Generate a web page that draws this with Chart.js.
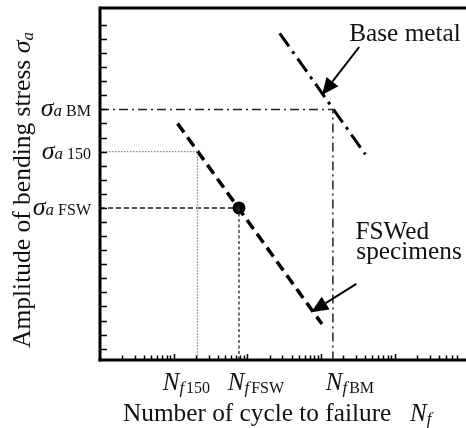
<!DOCTYPE html>
<html><head><meta charset="utf-8">
<script src="https://cdn.jsdelivr.net/npm/chart.js@4/dist/chart.umd.min.js"></script>
<style>html,body{margin:0;padding:0;background:#fff;overflow:hidden}canvas{display:block}</style>
</head><body><canvas id="c" width="466" height="428"></canvas>
<script>
// ---- data (schematic S-N diagram; x = cycles (log), y = stress units) ----
const levelNames = ['BM', '150', 'FSW'];          // sigma_a labels
const levelValues = [17, 14, 10];                  // stress levels
const lifeNames = ['150', 'FSW', 'BM'];           // N_f labels
const lifeValues = [21, 77, 1450];                 // cycles to failure
const baseMetalN = [275, 4000];
const baseMetalS = [22.4, 13.8];
const fswN = [11.3, 1030];
const fswS = [16.0, 1.75];
const fswPointN = [77];
const fswPointS = [10];

const X_MIN = 1, X_MAX = 75858, Y_MIN = -0.8, Y_MAX = 24.2;
const SERIF = "'Liberation Serif','DejaVu Serif',serif";

const toXY = (xs, ys) => xs.map((v, i) => ({x: v, y: ys[i]}));
const hLine = (i, xi) => [{x: X_MIN, y: levelValues[i]}, {x: lifeValues[xi], y: levelValues[i]}];
const vLine = (i, xi) => [{x: lifeValues[xi], y: levelValues[i]}, {x: lifeValues[xi], y: Y_MIN}];
const elbow = (i, xi) => hLine(i, xi).concat([{x: lifeValues[xi], y: Y_MIN}]);

const base = {showLine: true, pointRadius: 0, fill: false, tension: 0};
const datasets = [
  Object.assign({}, base, {data: elbow(0, 2), borderColor: '#222', borderWidth: 1.5, borderDash: [9, 4, 2, 4]}),
  Object.assign({}, base, {data: elbow(1, 0), borderColor: '#8a8a8a', borderWidth: 1.2, borderDash: [1.5, 1.5]}),
  Object.assign({}, base, {data: hLine(2, 1), borderColor: '#222', borderWidth: 1.5, borderDash: [5, 3]}),
  Object.assign({}, base, {data: vLine(2, 1), borderColor: '#333', borderWidth: 1.4, borderDash: [3, 2.5]}),
  Object.assign({}, base, {data: toXY(baseMetalN, baseMetalS), borderColor: '#000', borderWidth: 3, borderDash: [16, 6, 3, 6]}),
  Object.assign({}, base, {data: toXY(fswN, fswS), borderColor: '#000', borderWidth: 3.5, borderDash: [11, 6]}),
  {data: toXY(fswPointN, fswPointS), showLine: false, pointRadius: 6.5, pointBackgroundColor: '#000', pointBorderColor: '#000', pointBorderWidth: 0}
];

function rich(ctx, parts, x, y, align) {
  let w = 0;
  parts.forEach(p => { ctx.font = p.f; p.w = ctx.measureText(p.t).width + (p.pre || 0); w += p.w; });
  let cx = align === 'right' ? x - w : (align === 'center' ? x - w / 2 : x);
  parts.forEach(p => { ctx.font = p.f; ctx.fillText(p.t, cx + (p.pre || 0), y + (p.dy || 0)); cx += p.w; });
}
function arrow(ctx, x1, y1, x2, y2) {
  const ang = Math.atan2(y2 - y1, x2 - x1), L = 17, H = 7.5;
  const bx = x2 - L * Math.cos(ang), by = y2 - L * Math.sin(ang);
  ctx.lineWidth = 2; ctx.beginPath(); ctx.moveTo(x1, y1); ctx.lineTo(bx, by); ctx.stroke();
  ctx.beginPath(); ctx.moveTo(x2, y2);
  ctx.lineTo(bx + H * Math.sin(ang), by - H * Math.cos(ang));
  ctx.lineTo(bx - H * Math.sin(ang), by + H * Math.cos(ang));
  ctx.closePath(); ctx.fill();
}

const frame = {
  id: 'frame',
  afterDraw(chart, args, o) {
    const {ctx, chartArea: a, scales: {x, y}} = chart;
    ctx.save();
    ctx.strokeStyle = '#000'; ctx.fillStyle = '#000';
    // inward tick marks placed through the scales
    ctx.lineWidth = 1.5;
    for (let v = Math.ceil(y.min); v <= y.max - 1; v++) {
      const py = Math.round(y.getPixelForValue(v)) + 0.5;
      ctx.beginPath(); ctx.moveTo(a.left, py); ctx.lineTo(a.left + 7, py); ctx.stroke();
    }
    x.ticks.forEach(t => {
      const v = t.value; if (v <= x.min * 1.0001 || v >= x.max) return;
      const e = Math.floor(Math.log10(v) + 1e-9), m = v / Math.pow(10, e);
      if (Math.abs(m - Math.round(m)) > 1e-6) return;
      const px = Math.round(x.getPixelForValue(v)) + 0.5;
      ctx.beginPath(); ctx.moveTo(px, a.bottom); ctx.lineTo(px, a.bottom - (Math.round(m) === 1 ? 6 : 4.5)); ctx.stroke();
    });
    // frame
    ctx.lineWidth = 3;
    ctx.beginPath(); ctx.moveTo(a.left, a.top); ctx.lineTo(chart.width, a.top); ctx.stroke();
    ctx.beginPath(); ctx.moveTo(a.left, a.top - 1.5); ctx.lineTo(a.left, a.bottom + 1.5); ctx.stroke();
    ctx.beginPath(); ctx.moveTo(a.left - 1.5, a.bottom); ctx.lineTo(chart.width, a.bottom); ctx.stroke();
    // y level labels
    ctx.fillStyle = '#111'; ctx.textBaseline = 'alphabetic';
    levelValues.forEach((v, i) => {
      const py = y.getPixelForValue(v);
      rich(ctx, [{t: 'σ', f: `italic 26px ${SERIF}`}, {t: 'a', f: `italic 17px ${SERIF}`},
                 {t: levelNames[i], f: `16px ${SERIF}`, pre: 4}], a.left - 9, py + 7, 'right');
    });
    // x life labels
    lifeValues.forEach((v, i) => {
      const px = x.getPixelForValue(v) + o.lifeDx[i];
      rich(ctx, [{t: 'N', f: `italic 25px ${SERIF}`}, {t: 'f', f: `italic 17px ${SERIF}`, dy: 3},
                 {t: lifeNames[i], f: `16px ${SERIF}`, dy: 3, pre: 2}], px, a.bottom + 30, 'center');
    });
    // axis titles
    rich(ctx, [{t: 'Number of cycle to failure', f: `25.3px ${SERIF}`}], 123, 421, 'left');
    rich(ctx, [{t: 'N', f: `italic 25px ${SERIF}`}, {t: 'f', f: `italic 17px ${SERIF}`, dy: 3}], 410, 421, 'left');
    ctx.save(); ctx.translate(30, 190); ctx.rotate(-Math.PI / 2);
    rich(ctx, [{t: 'Amplitude of bending stress ', f: `25.5px ${SERIF}`}, {t: 'σ', f: `italic 26px ${SERIF}`},
               {t: 'a', f: `italic 17px ${SERIF}`, dy: 3}], 0, 0, 'center');
    ctx.restore();
    // annotations (data coordinates)
    ctx.fillStyle = '#000'; ctx.strokeStyle = '#000';
    o.arrows.forEach(r => arrow(ctx, x.getPixelForValue(r[0]), y.getPixelForValue(r[1]), x.getPixelForValue(r[2]), y.getPixelForValue(r[3])));
    ctx.fillStyle = '#111';
    o.notes.forEach(n => { ctx.font = `25.3px ${SERIF}`; ctx.textAlign = n[3]; ctx.fillText(n[0], x.getPixelForValue(n[1]), y.getPixelForValue(n[2])); });
    ctx.restore();
  }
};

new Chart(document.getElementById('c'), {
  type: 'scatter',
  data: {datasets},
  options: {
    responsive: false, animation: false, devicePixelRatio: 1,
    layout: {padding: {left: 100, top: 8, right: 0, bottom: 68}},
    plugins: {
      legend: {display: false}, tooltip: {enabled: false},
      frame: {
        lifeDx: [-11, 17, 17],
        arrows: [[3300, 21.43, 1031, 18.02], [3020, 4.6, 736, 2.6]],
        notes: [['Base metal', 13800, 21.85, 'center'], ['FSWed', 2929, 7.79, 'left'], ['specimens', 3020, 6.37, 'left']]
      }
    },
    scales: {
      x: {type: 'logarithmic', min: X_MIN, max: X_MAX, display: false, ticks: {autoSkip: false}},
      y: {type: 'linear', min: Y_MIN, max: Y_MAX, display: false, ticks: {stepSize: 1, autoSkip: false}}
    }
  },
  plugins: [frame]
});
</script></body></html>
